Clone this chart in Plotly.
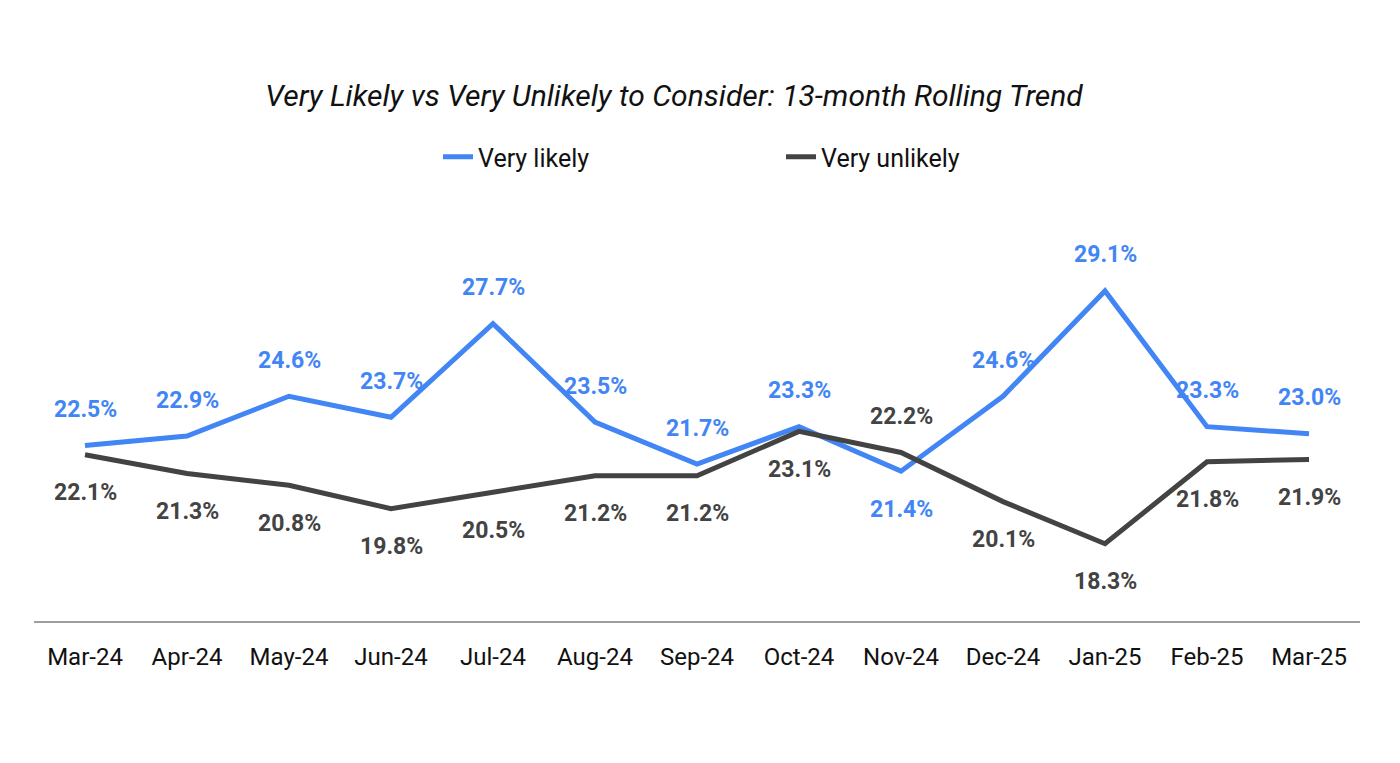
import plotly.graph_objects as go

months = ["Mar-24", "Apr-24", "May-24", "Jun-24", "Jul-24", "Aug-24", "Sep-24",
          "Oct-24", "Nov-24", "Dec-24", "Jan-25", "Feb-25", "Mar-25"]
very_likely = [22.5, 22.9, 24.6, 23.7, 27.7, 23.5, 21.7, 23.3, 21.4, 24.6, 29.1, 23.3, 23.0]
very_unlikely = [22.1, 21.3, 20.8, 19.8, 20.5, 21.2, 21.2, 23.1, 22.2, 20.1, 18.3, 21.8, 21.9]

# which side of the line each data label sits on
likely_side = ["up"] * 8 + ["down"] + ["up"] * 4
unlikely_side = ["down"] * 8 + ["up"] + ["down"] * 4

blue = "#4285f4"
grey = "#434343"
font = "Roboto"
W, H = 1384, 747

fig = go.Figure()
fig.add_trace(go.Scatter(x=months, y=very_likely, name="Very likely", mode="lines",
                         line=dict(color=blue, width=5)))
fig.add_trace(go.Scatter(x=months, y=very_unlikely, name="Very unlikely", mode="lines",
                         line=dict(color=grey, width=5)))

for vals, sides, col in [(very_likely, likely_side, blue), (very_unlikely, unlikely_side, grey)]:
    for m, v, s in zip(months, vals, sides):
        fig.add_annotation(x=m, y=v, text=f"{v:.1f}%", showarrow=False,
                           yshift=36 if s == "up" else -38,
                           font=dict(family=font, size=23, color=col, weight="bold"))

fig.update_layout(
    width=W, height=H,
    paper_bgcolor="white", plot_bgcolor="white",
    margin=dict(l=26, r=32, t=215, b=134),
    title=dict(text="<i>Very Likely vs Very Unlikely to Consider: 13-month Rolling Trend</i>",
               x=666 / W, xanchor="center", y=1 - 87 / H, yref="container", yanchor="middle",
               font=dict(family=font, size=30, color="#111111")),
    legend=dict(orientation="h", xref="container", x=430 / W, xanchor="left",
                y=1 - 149 / H, yref="container", yanchor="middle", entrywidth=298,
                font=dict(family=font, size=25, color="#111111")),
    xaxis=dict(type="category", range=[-0.5, 12.5], showgrid=False, showline=True,
               linecolor="#9e9e9e", linewidth=1.5, ticks="outside", ticklen=13,
               tickcolor="rgba(0,0,0,0)", tickfont=dict(family=font, size=24, color="#111111")),
    yaxis=dict(range=[15, 32], showgrid=False, showticklabels=False, zeroline=False),
)

fig.write_html("out.html")
